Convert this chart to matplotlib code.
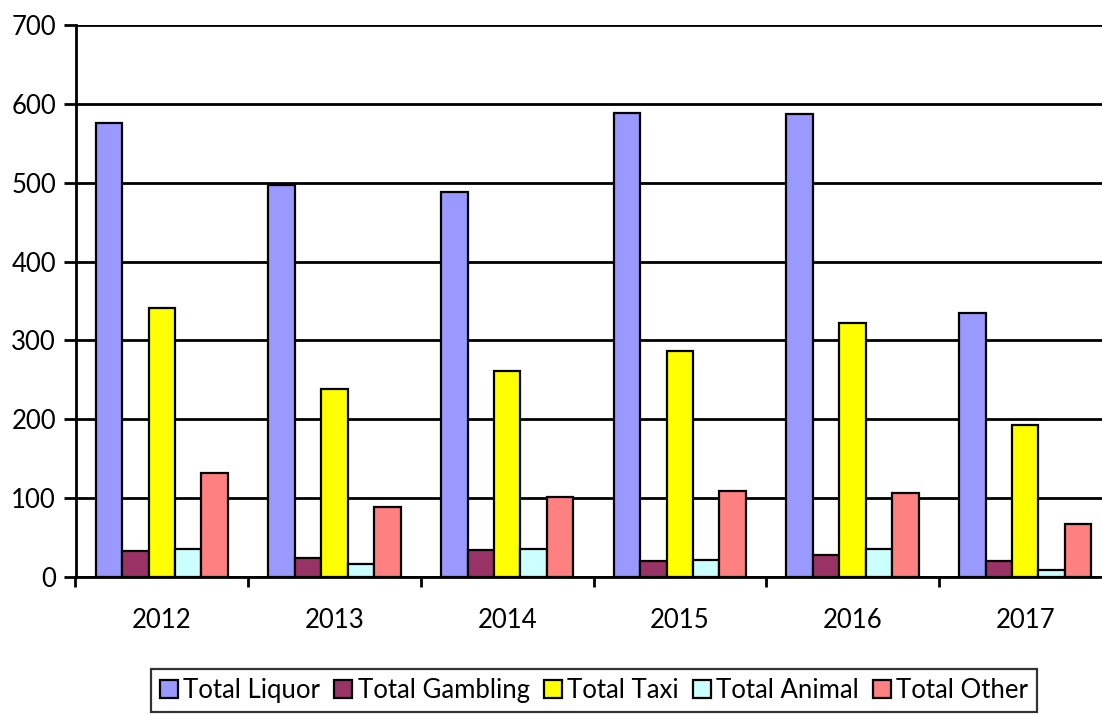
import numpy as np
import matplotlib.pyplot as plt

# valores
years = ['2012', '2013', '2014', '2015', '2016', '2017']
liquor = [576, 497, 488, 588, 587, 335]
gambling = [33, 24, 34, 20, 28, 20]
taxi = [341, 239, 261, 286, 322, 193]
animal = [35, 17, 36, 22, 36, 9]
other = [132, 89, 102, 109, 106, 67]

series = [liquor, gambling, taxi, animal, other]
names = ['Total Liquor', 'Total Gambling', 'Total Taxi', 'Total Animal', 'Total Other']
colors = ['#9999FF', '#993366', '#FFFF00', '#CCFFFF', '#FF8080']

plt.rcParams['font.family'] = ['Lato', 'DejaVu Sans']

fig = plt.figure(figsize=(11.02, 7.14), dpi=100)
ax = fig.add_axes([75.5 / 1102, 1 - 577 / 714, 1036 / 1102, 552 / 714])

x = np.arange(len(years))
w = 0.153
for k, (vals, name, col) in enumerate(zip(series, names, colors)):
    ax.bar(x + (k - 2) * w, vals, w, color=col, edgecolor='black', linewidth=1.6,
           label=name, zorder=3)

ax.set_xlim(-0.5, len(years) - 0.5)
ax.set_ylim(0, 700)
ax.set_yticks(range(0, 701, 100))
ax.yaxis.grid(True, color='black', linewidth=2, zorder=0)
ax.set_axisbelow(True)

# ticks nas divisas dos grupos, rotulos no centro
ax.set_xticks(np.arange(-0.5, len(years), 1))
ax.set_xticklabels([])
ax.set_xticks(x, minor=True)
ax.set_xticklabels(years, minor=True)
ax.tick_params(axis='x', which='major', length=7, width=2, direction='out')
ax.tick_params(axis='x', which='minor', length=0, pad=22, labelsize=18.5)
ax.tick_params(axis='y', length=9, width=2, direction='out', pad=5, labelsize=18.5)

for s in ['top', 'right']:
    ax.spines[s].set_visible(False)
ax.spines['left'].set_linewidth(2)
ax.spines['bottom'].set_linewidth(2)

leg = fig.legend(loc='upper center', bbox_to_anchor=(594 / 1102, 1 - 669 / 714), ncol=5,
                 fontsize=18.5, frameon=True, fancybox=False, edgecolor='black',
                 handlelength=0.7, handleheight=0.7, handletextpad=0.2,
                 columnspacing=0.55, borderpad=0.35, borderaxespad=0)
leg.get_frame().set_linewidth(1.6)

fig.savefig('out.png', dpi=100)
